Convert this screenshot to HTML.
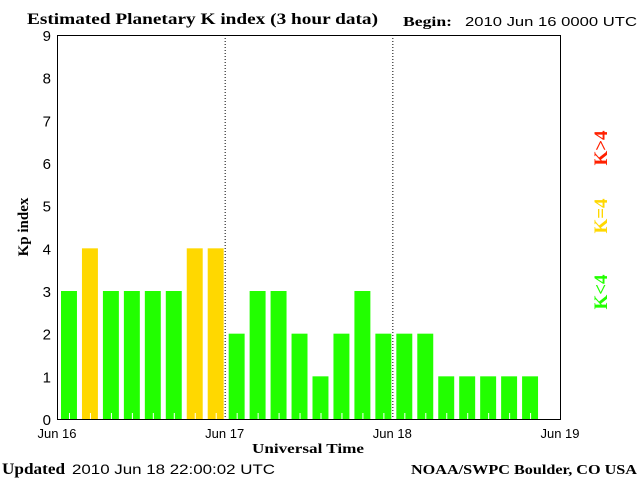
<!DOCTYPE html>
<html><head><meta charset="utf-8"><style>
body{margin:0;background:#fff;}
svg{display:block;}
</style></head><body>
<svg id="c" width="640" height="480" xmlns="http://www.w3.org/2000/svg">
<rect width="640" height="480" fill="#fff"/>
<text x="27" y="24" textLength="351" lengthAdjust="spacingAndGlyphs" font-family="Liberation Serif, serif" font-size="16" font-weight="bold">Estimated Planetary K index (3 hour data)</text>
<text x="403" y="26" textLength="49" lengthAdjust="spacingAndGlyphs" font-family="Liberation Serif, serif" font-size="14" font-weight="bold">Begin:</text>
<text x="465" y="26" textLength="172" lengthAdjust="spacingAndGlyphs" font-family="Liberation Sans, sans-serif" font-size="13">2010 Jun 16 0000 UTC</text>
<g id="bars"></g>
<g id="axes"></g>
<text x="0" y="0" transform="translate(28,227) rotate(-90)" text-anchor="middle" font-family="Liberation Serif, serif" font-size="15" font-weight="bold">Kp index</text>
<text x="252" y="453" textLength="112" lengthAdjust="spacingAndGlyphs" font-family="Liberation Serif, serif" font-size="14" font-weight="bold">Universal Time</text>
<text x="2" y="474" textLength="63" lengthAdjust="spacingAndGlyphs" font-family="Liberation Serif, serif" font-size="16" font-weight="bold">Updated</text>
<text x="72" y="474" textLength="203" lengthAdjust="spacingAndGlyphs" font-family="Liberation Sans, sans-serif" font-size="14">2010 Jun 18 22:00:02 UTC</text>
<text x="411" y="474" textLength="226" lengthAdjust="spacingAndGlyphs" font-family="Liberation Serif, serif" font-size="14" font-weight="bold">NOAA/SWPC Boulder, CO USA</text>
<text transform="translate(607,148) rotate(-90)" text-anchor="middle" fill="#ff2000" font-family="Liberation Serif, serif" font-size="19" font-weight="bold">K&gt;4</text>
<text transform="translate(607,216) rotate(-90)" text-anchor="middle" fill="#ffd800" font-family="Liberation Serif, serif" font-size="19" font-weight="bold">K=4</text>
<text transform="translate(607,292) rotate(-90)" text-anchor="middle" fill="#22ff00" font-family="Liberation Serif, serif" font-size="19" font-weight="bold">K&lt;4</text>
</svg>
<script>
const kpValues=[3,4,3,3,3,3,4,4, 2,3,3,2,1,2,3,2, 2,2,1,1,1,1,1];
const yTicks=[0,1,2,3,4,5,6,7,8,9];
const dayLabels=["Jun 16","Jun 17","Jun 18","Jun 19"];
const NS="http://www.w3.org/2000/svg";
const X0=57,X1=560,Y0=419,Y1=35;
const slotW=(X1-X0)/24;
function xs(i){return X0+i*slotW;}
function ys(v){return Y0-(v/9)*(Y0-Y1);}
function mk(t,a,p){const e=document.createElementNS(NS,t);for(const k in a)e.setAttribute(k,a[k]);p.appendChild(e);return e;}
const bars=document.getElementById('bars'),axes=document.getElementById('axes');
kpValues.forEach((v,i)=>{
  const col=v>4?'#ff2000':(v==4?'#ffd800':'#22ff00');
  const r=mk('rect',{x:xs(i)+4,y:ys(v),width:slotW-5,height:Y0-ys(v),fill:col},bars);
  
  
  const t=mk('line',{x1:xs(i)+12.5,x2:xs(i)+12.5,y1:Y0-6,y2:Y0,stroke:'#fff','stroke-width':1},bars);
  
  
});
const box=mk('rect',{x:X0+0.5,y:Y1+0.5,width:X1-X0,height:Y0-Y1,fill:'none',stroke:'#000','stroke-width':1},axes);


[1,2].forEach(d=>{
  const l=mk('line',{x1:xs(d*8)+0.5,x2:xs(d*8)+0.5,y1:Y1,y2:Y0,stroke:'#000','stroke-dasharray':'1,2'},axes);
  
  
});
yTicks.forEach(v=>{
  const t=mk('text',{x:X0-6,y:ys(v)+6,'text-anchor':'end','font-family':'Liberation Sans, sans-serif','font-size':'15'},axes);
  t.textContent=v;
  
  
});
dayLabels.forEach((s,d)=>{
  const t=mk('text',{x:xs(d*8),y:438,'text-anchor':'middle','font-family':'Liberation Sans, sans-serif','font-size':'13'},axes);
  t.textContent=s;
  
  
});
</script>
</body></html>
